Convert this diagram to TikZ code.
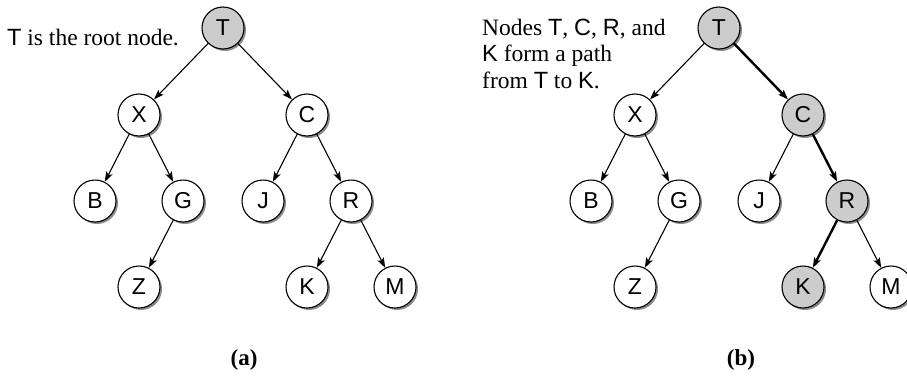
\documentclass[tikz,border=0pt]{standalone}
\usepackage{fontspec}
\setmainfont{Liberation Serif}
\newfontfamily\arial{Liberation Sans}
\usetikzlibrary{positioning, arrows.meta, shadows}

\begin{document}
\begin{tikzpicture}[
    x=1pt, y=-1pt, node distance=86pt and 44pt, on grid,
    vertex/.style={circle, draw, line width=1.1pt, fill=white,
                   minimum size=42pt, inner sep=0pt,
                   font=\arial\fontsize{23}{27}\selectfont,
                   drop shadow={shadow xshift=2pt, shadow yshift=-2pt,
                                fill=black!45, opacity=1}},
    hilite/.style={vertex, fill=black!20},
    note/.style={font=\fontsize{23.5}{26.5}\selectfont, inner sep=0pt, align=left},
    caption/.style={font=\bfseries\fontsize{23}{27}\selectfont},
    arrow/.style={-{Stealth[length=10pt, width=7pt, inset=2pt]}, line width=1.1pt},
    patharrow/.style={arrow, line width=2.4pt}
]
  \useasboundingbox (0,0) rectangle (907,375);

  % (a) the tree with its root
  \node[hilite] (aT) at (223,28) {T};
  \node[vertex, below left=87pt and 84pt of aT] (aX) {X};
  \node[vertex, below right=87pt and 84pt of aT] (aC) {C};
  \node[vertex, below left=of aX] (aB) {B};
  \node[vertex, below right=of aX] (aG) {G};
  \node[vertex, below left=of aC] (aJ) {J};
  \node[vertex, below right=of aC] (aR) {R};
  \node[vertex, below left=of aG] (aZ) {Z};
  \node[vertex, below left=of aR] (aK) {K};
  \node[vertex, below right=of aR] (aM) {M};
  \node[note, anchor=base west] (rootnote) at (7,45) {{\arial T} is the root node.};
  \node[caption] (capA) at (244,360) {(a)};

  \draw[arrow] (aT) -- (aX);
  \draw[arrow] (aT) -- (aC);
  \draw[arrow] (aX) -- (aB);
  \draw[arrow] (aX) -- (aG);
  \draw[arrow] (aC) -- (aJ);
  \draw[arrow] (aC) -- (aR);
  \draw[arrow] (aG) -- (aZ);
  \draw[arrow] (aR) -- (aK);
  \draw[arrow] (aR) -- (aM);

  % (b) the path from T to K
  \node[hilite] (bT) at (719,28) {T};
  \node[vertex, below left=87pt and 84pt of bT] (bX) {X};
  \node[hilite, below right=87pt and 84pt of bT] (bC) {C};
  \node[vertex, below left=of bX] (bB) {B};
  \node[vertex, below right=of bX] (bG) {G};
  \node[vertex, below left=of bC] (bJ) {J};
  \node[hilite, below right=of bC] (bR) {R};
  \node[vertex, below left=of bG] (bZ) {Z};
  \node[hilite, below left=of bR] (bK) {K};
  \node[vertex, below right=of bR] (bM) {M};
  \node[note, anchor=base west] (pathnote) at (482,88)
    {Nodes {\arial T}, {\arial C}, {\arial R}, and\\{\arial K} form a path\\from {\arial T} to {\arial K}.};
  \node[caption] (capB) at (741,360) {(b)};

  \draw[arrow] (bT) -- (bX);
  \draw[patharrow] (bT) -- (bC);
  \draw[arrow] (bX) -- (bB);
  \draw[arrow] (bX) -- (bG);
  \draw[arrow] (bC) -- (bJ);
  \draw[patharrow] (bC) -- (bR);
  \draw[arrow] (bG) -- (bZ);
  \draw[patharrow] (bR) -- (bK);
  \draw[arrow] (bR) -- (bM);
\end{tikzpicture}
\end{document}
